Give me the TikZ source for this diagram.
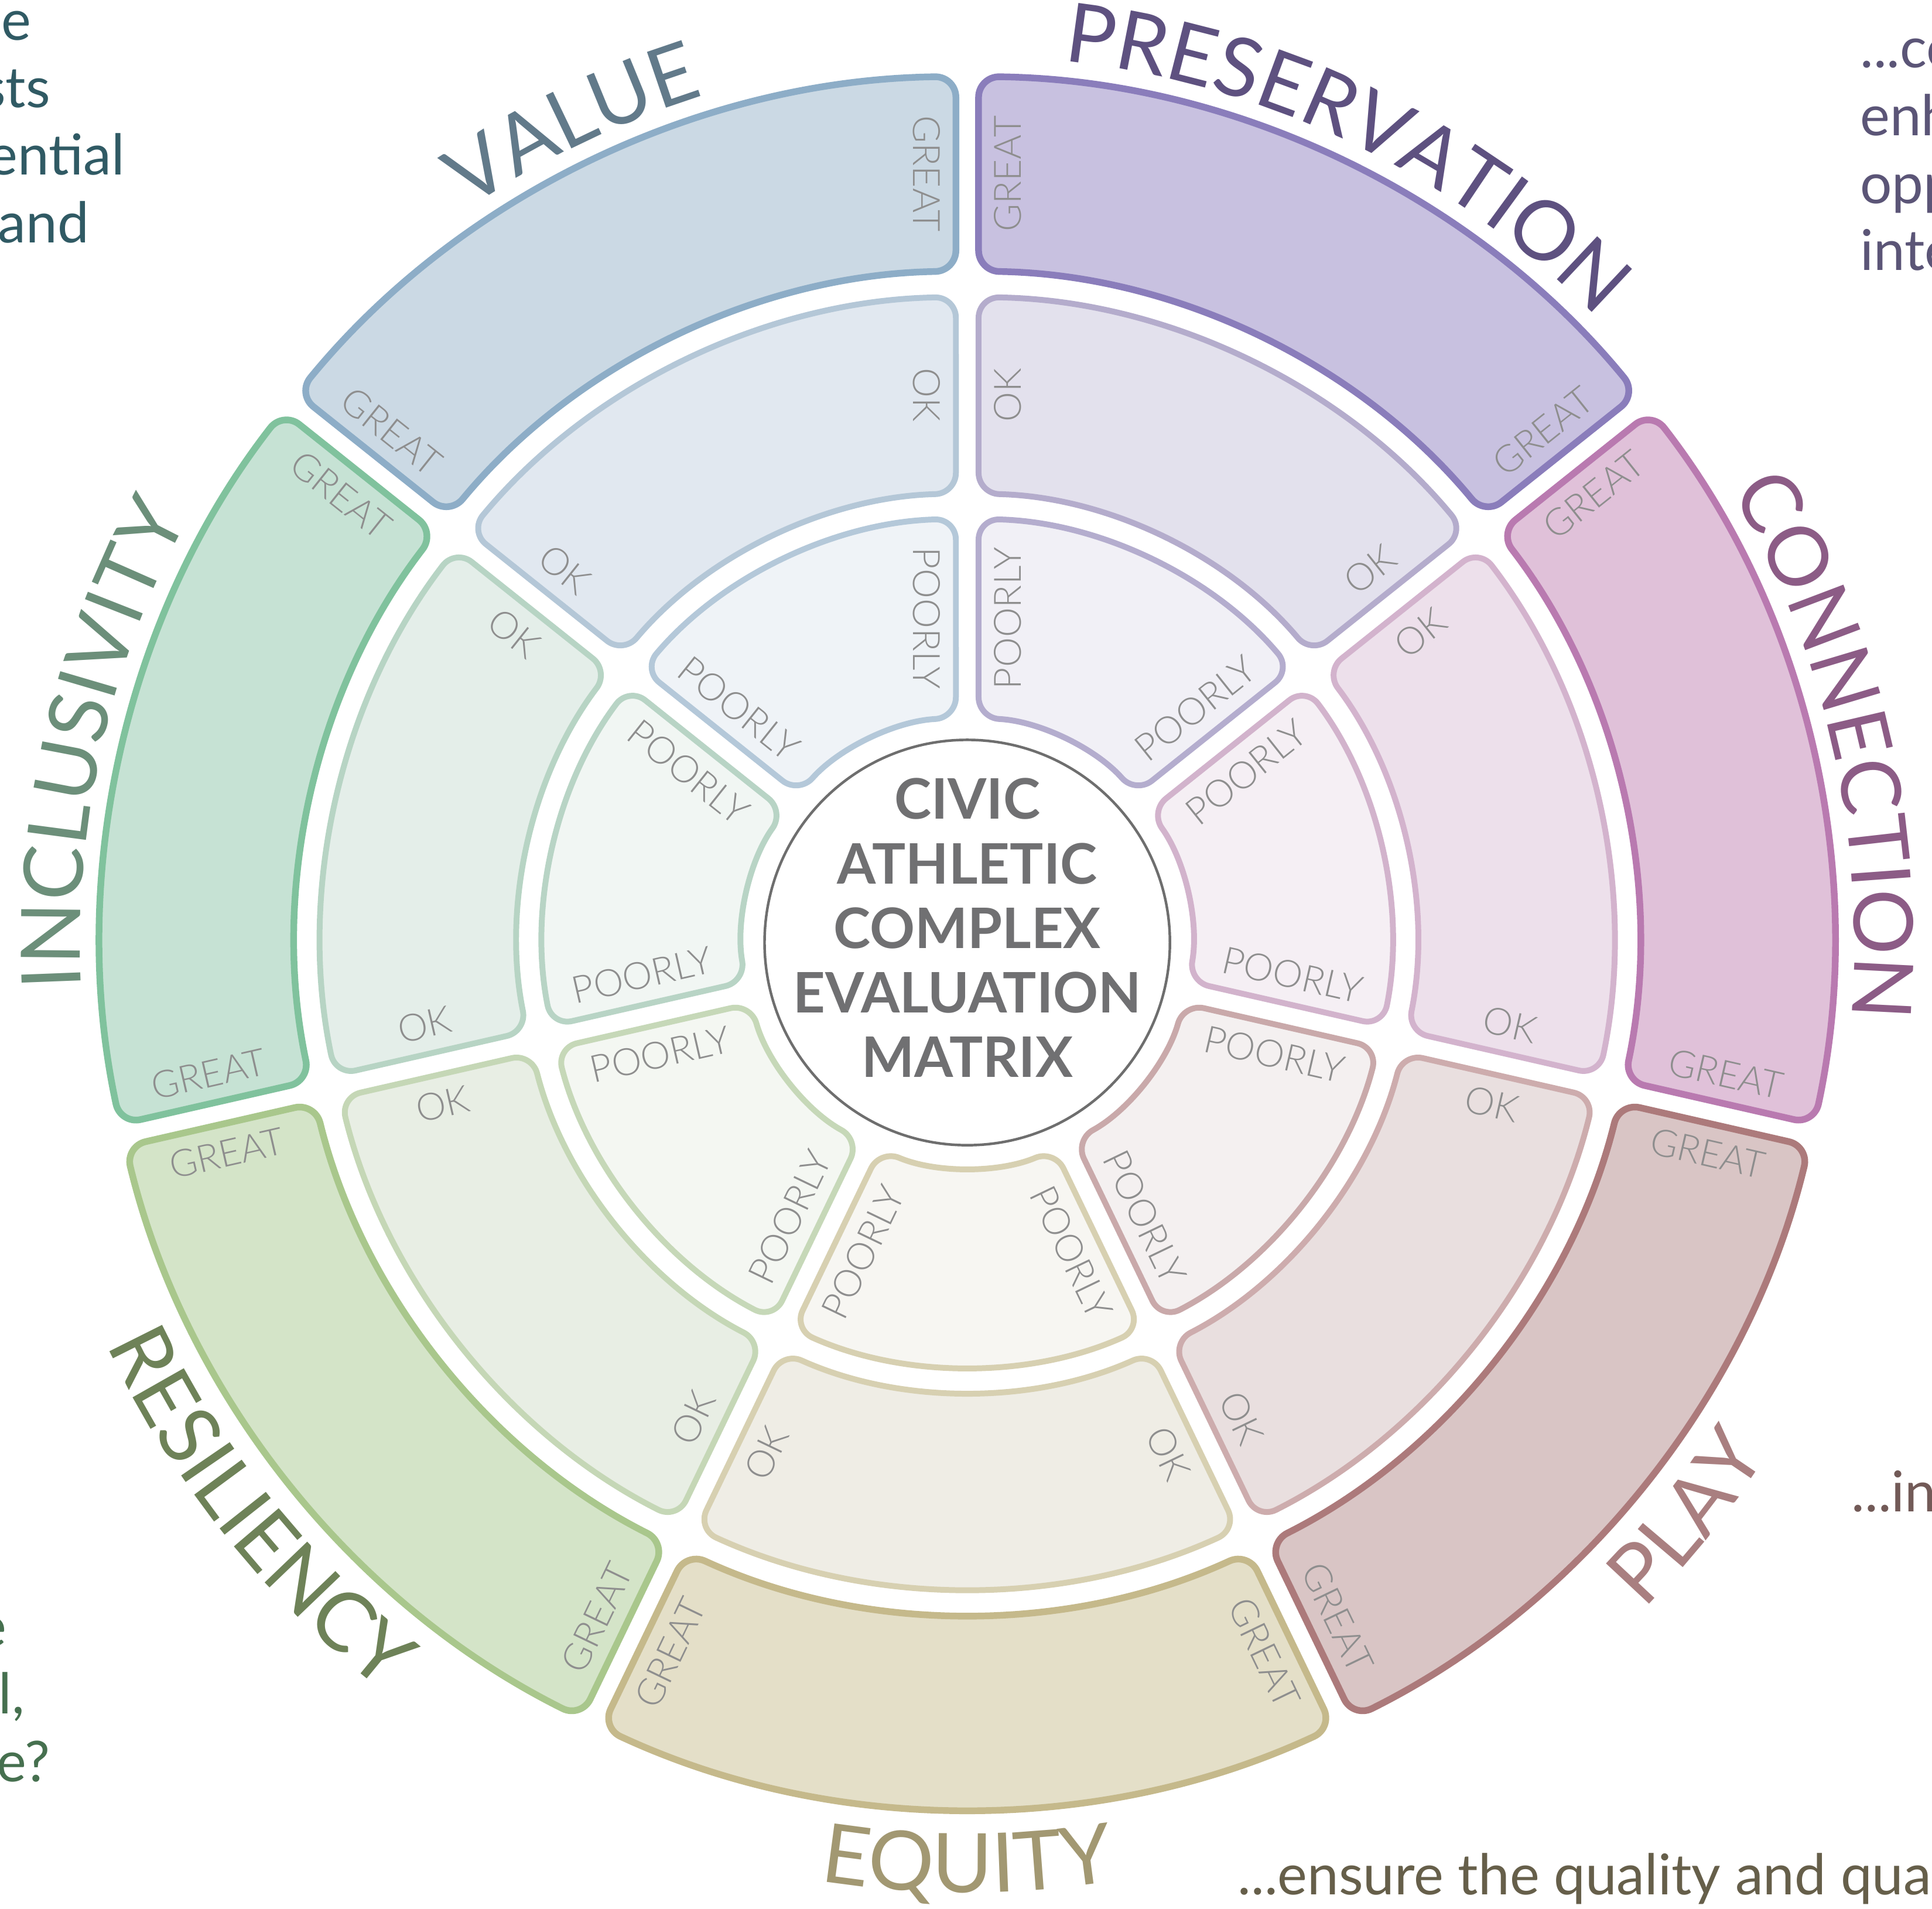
\documentclass[tikz,border=0pt]{standalone}
\usepackage{fontspec}
\setmainfont{Lato}
\newfontfamily\lightfont{Lato Light}
\usetikzlibrary{calc, decorations.text}

% sector colours: fill and line of each ring, and the label
\definecolor{ValueGreatFill}{HTML}{CBD9E4}
\definecolor{ValueGreatLine}{HTML}{8DADC7}
\definecolor{ValueOkFill}{HTML}{E1E8F0}
\definecolor{ValueOkLine}{HTML}{B4C7D7}
\definecolor{ValuePoorFill}{HTML}{EFF3F7}
\definecolor{ValuePoorLine}{HTML}{B4C8D9}
\definecolor{ValueText}{HTML}{627A8A}
\definecolor{PreservationGreatFill}{HTML}{C8C1E0}
\definecolor{PreservationGreatLine}{HTML}{8A7DBB}
\definecolor{PreservationOkFill}{HTML}{E3E1ED}
\definecolor{PreservationOkLine}{HTML}{B4ACCC}
\definecolor{PreservationPoorFill}{HTML}{F1F0F6}
\definecolor{PreservationPoorLine}{HTML}{B4ADCE}
\definecolor{PreservationText}{HTML}{5E5180}
\definecolor{ConnectionGreatFill}{HTML}{E0C1D9}
\definecolor{ConnectionGreatLine}{HTML}{B97AB0}
\definecolor{ConnectionOkFill}{HTML}{EDE0EB}
\definecolor{ConnectionOkLine}{HTML}{D3B3CD}
\definecolor{ConnectionPoorFill}{HTML}{F5EFF4}
\definecolor{ConnectionPoorLine}{HTML}{D2B3CC}
\definecolor{ConnectionText}{HTML}{8C5C86}
\definecolor{PlayGreatFill}{HTML}{D9C5C5}
\definecolor{PlayGreatLine}{HTML}{AC7A7B}
\definecolor{PlayOkFill}{HTML}{E9DFDF}
\definecolor{PlayOkLine}{HTML}{CDACAD}
\definecolor{PlayPoorFill}{HTML}{F4F0F0}
\definecolor{PlayPoorLine}{HTML}{C9A9AA}
\definecolor{PlayText}{HTML}{A97F80}
\definecolor{EquityGreatFill}{HTML}{E4DFC8}
\definecolor{EquityGreatLine}{HTML}{C5B98B}
\definecolor{EquityOkFill}{HTML}{EFEDE5}
\definecolor{EquityOkLine}{HTML}{D7D0B1}
\definecolor{EquityPoorFill}{HTML}{F7F6F2}
\definecolor{EquityPoorLine}{HTML}{D7D0B1}
\definecolor{EquityText}{HTML}{A29872}
\definecolor{ResiliencyGreatFill}{HTML}{D4E4C8}
\definecolor{ResiliencyGreatLine}{HTML}{A9C78C}
\definecolor{ResiliencyOkFill}{HTML}{E8EEE4}
\definecolor{ResiliencyOkLine}{HTML}{C5D7B6}
\definecolor{ResiliencyPoorFill}{HTML}{F4F7F2}
\definecolor{ResiliencyPoorLine}{HTML}{C6D8B8}
\definecolor{ResiliencyText}{HTML}{6E8258}
\definecolor{InclusivityGreatFill}{HTML}{C6E2D4}
\definecolor{InclusivityGreatLine}{HTML}{80C29D}
\definecolor{InclusivityOkFill}{HTML}{E4EEE9}
\definecolor{InclusivityOkLine}{HTML}{B7D4C4}
\definecolor{InclusivityPoorFill}{HTML}{F1F6F3}
\definecolor{InclusivityPoorLine}{HTML}{B8D4C5}
\definecolor{InclusivityText}{HTML}{6C8F7A}
\definecolor{RingText}{HTML}{8E8E8E}
\definecolor{HubLine}{HTML}{6E6E6E}
\definecolor{HubText}{HTML}{707072}
\definecolor{NoteTeal}{HTML}{305A64}
\definecolor{NotePurple}{HTML}{5B5577}
\definecolor{NoteBrown}{HTML}{725A57}
\definecolor{NoteGreen}{HTML}{46704F}
\definecolor{NoteOlive}{HTML}{665F4A}

\newcommand\catfont{\fontsize{19}{22}\selectfont}
\newcommand\notefont{\fontsize{13}{15}\selectfont}

\tikzset{
    segment/.style={rounded corners=4.8pt},
    ringlabel/.style={font=\lightfont\fontsize{8.7}{10}\selectfont, text=RingText, inner sep=0pt},
    hub/.style={circle, draw=HubLine, line width=0.6pt, minimum size=3.29cm, inner sep=0pt},
    hubtext/.style={align=center, font=\bfseries\fontsize{12.9}{14.9}\selectfont, text=HubText},
    note/.style={font=\notefont, inner sep=0pt},
}

\begin{document}
\begin{tikzpicture}
    \useasboundingbox (-7.85,-7.84) rectangle (7.83,7.65);
    \clip (-7.85,-7.84) rectangle (7.83,7.65);

    % the wheel: seven sectors, three rings each
    \foreach \name/\a/\b in {Value/90/141.4286, Preservation/38.5714/90, Connection/-12.8571/38.5714, Play/-64.2857/-12.8571, Equity/-115.7143/-64.2857, Resiliency/-167.1429/-115.7143, Inclusivity/141.4286/192.8571}
    {
        \pgfmathsetmacro\rotA{Mod(\a+90.01,180)-90}
        \pgfmathsetmacro\rotB{Mod(\b+89.99,180)-90}
        \foreach \ring/\word/\ri/\ro/\lw in {Poor/POORLY/1.825/3.44/1.35pt, Ok/OK/3.645/5.24/1.35pt, Great/GREAT/5.45/7.03/1.55pt}
        {
            \pgfmathsetmacro\dIn{asin(0.092/\ri)}
            \pgfmathsetmacro\dOut{asin(0.092/\ro)}
            \pgfmathsetmacro\rmid{(\ri+\ro)/2}
            \draw[segment, line width=\lw, fill=\name\ring Fill, draw=\name\ring Line]
                ({\a+\dOut}:\ro) arc[start angle={\a+\dOut}, end angle={\b-\dOut}, radius=\ro]
                -- ({\b-\dIn}:\ri) arc[start angle={\b-\dIn}, end angle={\a+\dIn}, radius=\ri] -- cycle;
            \node[ringlabel, rotate=\rotA] (\name-\ring-a) at ($({\a}:\rmid)+({\a+90}:0.33)$) {\word};
            \node[ringlabel, rotate=\rotB] (\name-\ring-b) at ($({\b}:\rmid)+({\b-90}:0.33)$) {\word};
        }
    }

    % sector names round the rim
    \path[decorate, decoration={text along path, text align=center, text color=ValueText, text={|\catfont|VALUE}}]
        (145.714:7.2) arc[start angle=145.714, end angle=85.714, radius=7.2];
    \path[decorate, decoration={text along path, text align=center, text color=PreservationText, text={|\catfont|PRESERVATION}}]
        (94.286:7.2) arc[start angle=94.286, end angle=34.286, radius=7.2];
    \path[decorate, decoration={text along path, text align=center, text color=ConnectionText, text={|\catfont|CONNECTION}}]
        (42.857:7.2) arc[start angle=42.857, end angle=-17.143, radius=7.2];
    \path[decorate, decoration={text along path, text align=center, text color=InclusivityText, text={|\catfont|INCLUSIVITY}}]
        (197.143:7.2) arc[start angle=197.143, end angle=137.143, radius=7.2];
    \path[decorate, decoration={text along path, text align=center, text color=PlayText, text={|\catfont|PLAY}}]
        (-68.571:7.71) arc[start angle=-68.571, end angle=-8.571, radius=7.71];
    \path[decorate, decoration={text along path, text align=center, text color=EquityText, text={|\catfont|EQUITY}}]
        (-120:7.71) arc[start angle=-120, end angle=-60, radius=7.71];
    \path[decorate, decoration={text along path, text align=center, text color=ResiliencyText, text={|\catfont|RESILIENCY}}]
        (-171.429:7.71) arc[start angle=-171.429, end angle=-111.429, radius=7.71];

    % hub
    \node[hub] (hub) at (0,0) {};
    \node[hubtext] (title) at (0,0.12) {CIVIC\\ATHLETIC\\COMPLEX\\EVALUATION\\MATRIX};

    % notes cut by the page edge
    \node[note, text=NoteTeal, anchor=base east] (tl-a) at (-7.59,7.325) {he};
    \node[note, text=NoteTeal, anchor=base east] (tl-b) at (-7.435,6.78) {sts};
    \node[note, text=NoteTeal, anchor=base east] (tl-c) at (-6.83,6.23) {ential};
    \node[note, text=NoteTeal, anchor=base east] (tl-d) at (-7.12,5.68) {and};
    \node[note, text=NotePurple, anchor=base west] (tr-a) at (7.24,7.103) {...co};
    \node[note, text=NotePurple, anchor=base west] (tr-b) at (7.24,6.55) {enh};
    \node[note, text=NotePurple, anchor=base west] (tr-c) at (7.24,6.0) {opp};
    \node[note, text=NotePurple, anchor=base west] (tr-d) at (7.24,5.455) {inte};
    \node[note, text=NoteBrown, anchor=base west] (r-a) at (7.17,-4.62) {...in};
    \node[note, text=NoteGreen, anchor=base east] (bl-a) at (-7.79,-5.715) {e};
    \node[note, text=NoteGreen, anchor=base east] (bl-b) at (-7.644,-6.26) {l,};
    \node[note, text=NoteGreen, anchor=base east] (bl-c) at (-7.435,-6.81) {e?};
    \node[note, text=NoteOlive, anchor=base west] (b-a) at (2.19,-7.73) {...ensure the quality and qua};
\end{tikzpicture}
\end{document}
